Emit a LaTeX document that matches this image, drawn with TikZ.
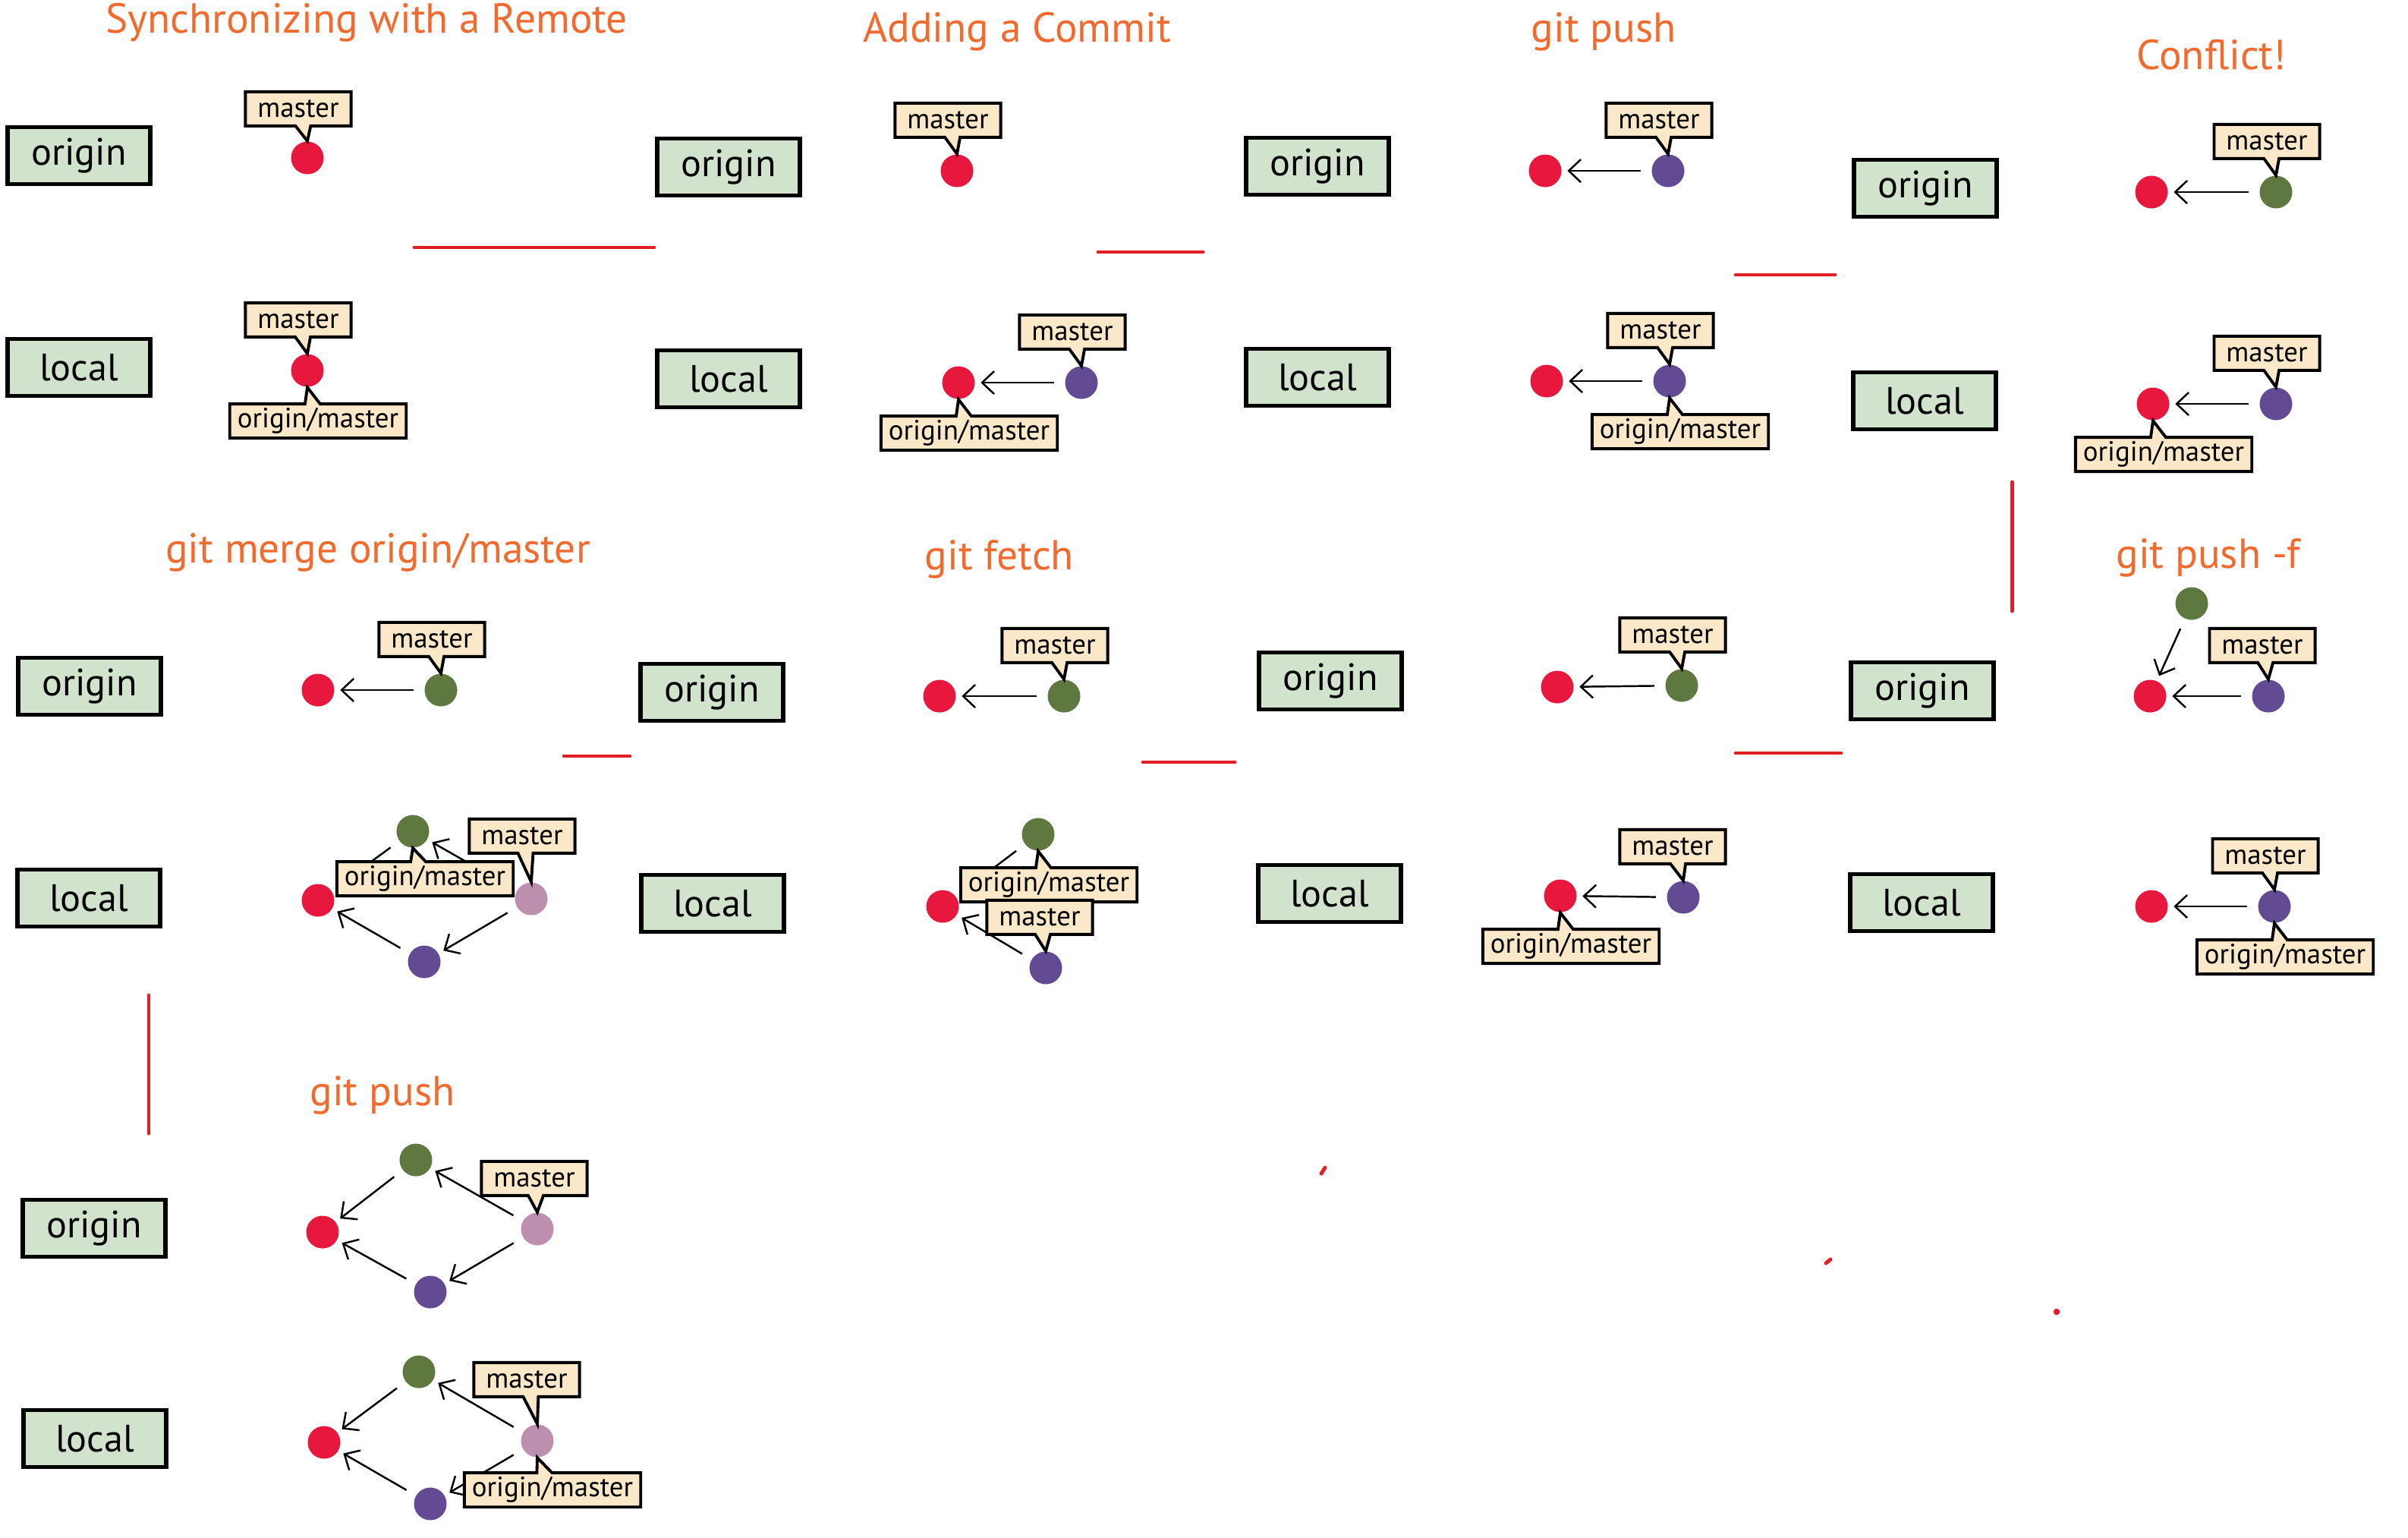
\documentclass[tikz,border=0pt]{standalone}
\usepackage{fontspec}
\setmainfont{PT Sans}
\usetikzlibrary{positioning,shapes.callouts,arrows.meta}
\definecolor{cred}{RGB}{232,23,61}
\definecolor{cgreen}{RGB}{94,120,64}
\definecolor{cpurple}{RGB}{99,75,148}
\definecolor{cpink}{RGB}{188,143,175}
\definecolor{repogreen}{RGB}{209,226,205}
\definecolor{tagbeige}{RGB}{250,232,201}
\definecolor{titleorange}{RGB}{242,106,46}
\definecolor{linered}{RGB}{227,30,36}

\begin{document}
\begin{tikzpicture}[>={Straight Barb[length=1.6mm,width=3mm]}]
            \tikzstyle{commit}=[circle,inner sep=0pt,minimum size=0.43cm]
            \tikzstyle{repo}=[draw=black,line width=1.5pt,fill=repogreen,minimum width=1.88cm,minimum height=0.75cm,inner sep=0pt,font=\fontsize{14.3}{17}\selectfont]
            \tikzstyle{branch}=[rectangle callout,draw=black,line width=1.1pt,fill=tagbeige,minimum height=0.45cm,inner xsep=0.16cm,inner ysep=0pt,callout pointer width=0.2cm,font=\fontsize{10.5}{12}\selectfont]
            \tikzstyle{remote}=[branch,inner xsep=0.1cm]
            \tikzstyle{heading}=[text=titleorange,font=\fontsize{15.7}{19}\selectfont]
            \tikzstyle{divider}=[draw=linered,line width=1.4pt,line cap=round]
                \useasboundingbox (0,0) rectangle (31.73,-20.25);

                \node[heading] (T-1) at (4.83,-0.30) {Synchronizing with a Remote};
                \node[heading] (T-2) at (13.40,-0.42) {Adding a Commit};
                \node[heading] (T-3) at (21.13,-0.42) {git push};
                \node[heading] (T-4) at (29.14,-0.72) {Conflict!};
                \node[heading] (T-5) at (4.98,-7.28) {git merge origin/master};
                \node[heading] (T-6) at (13.17,-7.37) {git fetch};
                \node[heading] (T-7) at (29.10,-7.35) {git push -f};
                \node[heading] (T-8) at (5.04,-14.43) {git push};

                \node[repo] (O-1) at (1.04,-2.05) {origin};
                \node[repo] (L-1) at (1.04,-4.84) {local};
                \node[repo] (O-2) at (9.60,-2.20) {origin};
                \node[repo] (L-2) at (9.60,-4.99) {local};
                \node[repo] (O-3) at (17.36,-2.19) {origin};
                \node[repo] (L-3) at (17.36,-4.97) {local};
                \node[repo] (O-4) at (25.37,-2.48) {origin};
                \node[repo] (L-4) at (25.36,-5.28) {local};
                \node[repo] (O-5) at (1.18,-9.04) {origin};
                \node[repo] (L-5) at (1.17,-11.83) {local};
                \node[repo] (O-6) at (9.38,-9.12) {origin};
                \node[repo] (L-6) at (9.39,-11.90) {local};
                \node[repo] (O-7) at (17.53,-8.97) {origin};
                \node[repo] (L-7) at (17.52,-11.77) {local};
                \node[repo] (O-8) at (25.33,-9.10) {origin};
                \node[repo] (L-8) at (25.32,-11.89) {local};
                \node[repo] (O-9) at (1.24,-16.18) {origin};
                \node[repo] (L-9) at (1.25,-18.95) {local};

                \node[commit,fill=cred] (C-1) at (4.05,-2.08){};
                \node[commit,fill=cred] (C-2) at (4.05,-4.88){};

                \node[commit,fill=cred] (C-3) at (12.61,-2.25){};
                \node[commit,fill=cred] (C-4) at (12.63,-5.04){};
                \node[commit,fill=cpurple] (C-5) at (14.25,-5.04){};

                \node[commit,fill=cred] (C-6) at (20.36,-2.25){};
                \node[commit,fill=cpurple] (C-7) at (21.98,-2.25){};
                \node[commit,fill=cred] (C-8) at (20.38,-5.02){};
                \node[commit,fill=cpurple] (C-9) at (22.00,-5.02){};

                \node[commit,fill=cred] (C-10) at (28.35,-2.53){};
                \node[commit,fill=cgreen] (C-11) at (29.99,-2.53){};
                \node[commit,fill=cred] (C-12) at (28.37,-5.32){};
                \node[commit,fill=cpurple] (C-13) at (29.99,-5.32){};

                \node[commit,fill=cred] (C-14) at (4.19,-9.09){};
                \node[commit,fill=cgreen] (C-15) at (5.81,-9.09){};
                \node[commit,fill=cgreen] (C-16) at (5.44,-10.95){};
                \node[commit,fill=cred] (C-17) at (4.19,-11.86){};
                \node[commit,fill=cpink] (C-18) at (7.00,-11.84){};
                \node[commit,fill=cpurple] (C-19) at (5.59,-12.67){};

                \node[commit,fill=cred] (C-20) at (12.38,-9.17){};
                \node[commit,fill=cgreen] (C-21) at (14.02,-9.17){};
                \node[commit,fill=cgreen] (C-22) at (13.68,-10.99){};
                \node[commit,fill=cred] (C-23) at (12.42,-11.94){};
                \node[commit,fill=cpurple] (C-24) at (13.78,-12.75){};

                \node[commit,fill=cred] (C-25) at (20.52,-9.05){};
                \node[commit,fill=cgreen] (C-26) at (22.16,-9.03){};
                \node[commit,fill=cred] (C-27) at (20.56,-11.80){};
                \node[commit,fill=cpurple] (C-28) at (22.18,-11.82){};

                \node[commit,fill=cgreen] (C-29) at (28.88,-7.95){};
                \node[commit,fill=cred] (C-30) at (28.33,-9.17){};
                \node[commit,fill=cpurple] (C-31) at (29.89,-9.17){};
                \node[commit,fill=cred] (C-32) at (28.35,-11.94){};
                \node[commit,fill=cpurple] (C-33) at (29.97,-11.94){};

                \node[commit,fill=cgreen] (C-34) at (5.48,-15.28){};
                \node[commit,fill=cred] (C-35) at (4.25,-16.23){};
                \node[commit,fill=cpink] (C-36) at (7.08,-16.19){};
                \node[commit,fill=cpurple] (C-37) at (5.67,-17.02){};
                \node[commit,fill=cgreen] (C-38) at (5.52,-18.07){};
                \node[commit,fill=cred] (C-39) at (4.27,-19.00){};
                \node[commit,fill=cpink] (C-40) at (7.08,-18.98){};
                \node[commit,fill=cpurple] (C-41) at (5.67,-19.81){};

                \foreach \from/\to in {5/4, 7/6, 9/8, 11/10, 13/12, 15/14, 16/17, 18/16, 18/19, 19/17, 21/20, 22/23, 24/23, 26/25, 28/27, 29/30, 31/30, 33/32, 34/35, 36/34, 36/37, 37/35, 38/39, 40/38, 40/41, 41/39}
                    \draw[->,line width=0.7pt,shorten >=2pt,shorten <=4pt] (C-\from) -- (C-\to);

                \node[branch,above=0.18cm of C-1,xshift=-0.12cm,callout absolute pointer={(C-1.north)}] (M-1) {master};
                \node[branch,above=0.2cm of C-2,xshift=-0.12cm,callout absolute pointer={(C-2.north)}] (M-2) {master};
                \node[remote,below=0.2cm of C-2,xshift=0.14cm,callout absolute pointer={(C-2.south)}] (R-2) {origin/master};
                \node[branch,above=0.2cm of C-3,xshift=-0.12cm,callout absolute pointer={(C-3.north)}] (M-3) {master};
                \node[branch,above=0.2cm of C-5,xshift=-0.12cm,callout absolute pointer={(C-5.north)}] (M-5) {master};
                \node[remote,below=0.2cm of C-4,xshift=0.14cm,callout absolute pointer={(C-4.south)}] (R-4) {origin/master};
                \node[branch,above=0.2cm of C-7,xshift=-0.12cm,callout absolute pointer={(C-7.north)}] (M-7) {master};
                \node[branch,above=0.2cm of C-9,xshift=-0.12cm,callout absolute pointer={(C-9.north)}] (M-9) {master};
                \node[remote,below=0.2cm of C-9,xshift=0.14cm,callout absolute pointer={(C-9.south)}] (R-9) {origin/master};
                \node[branch,above=0.2cm of C-11,xshift=-0.12cm,callout absolute pointer={(C-11.north)}] (M-11) {master};
                \node[branch,above=0.2cm of C-13,xshift=-0.12cm,callout absolute pointer={(C-13.north)}] (M-13) {master};
                \node[remote,below=0.2cm of C-12,xshift=0.14cm,callout absolute pointer={(C-12.south)}] (R-12) {origin/master};

                \node[branch,above=0.2cm of C-15,xshift=-0.12cm,callout absolute pointer={(C-15.north)}] (M-15) {master};
                \node[remote,below=0.16cm of C-16,xshift=0.16cm,callout absolute pointer={(C-16.south)}] (R-16) {origin/master};
                \node[branch,above=0.36cm of C-18,xshift=-0.12cm,callout absolute pointer={(C-18.north)}] (M-18) {master};
                \node[branch,above=0.2cm of C-21,xshift=-0.12cm,callout absolute pointer={(C-21.north)}] (M-21) {master};
                \node[remote,below=0.2cm of C-22,xshift=0.14cm,callout absolute pointer={(C-22.south)}] (R-22) {origin/master};
                \node[branch,above=0.2cm of C-24,xshift=-0.08cm,callout absolute pointer={(C-24.north)}] (M-24) {master};
                \node[branch,above=0.2cm of C-26,xshift=-0.12cm,callout absolute pointer={(C-26.north)}] (M-26) {master};
                \node[branch,above=0.2cm of C-28,xshift=-0.14cm,callout absolute pointer={(C-28.north)}] (M-28) {master};
                \node[remote,below=0.2cm of C-27,xshift=0.14cm,callout absolute pointer={(C-27.south)}] (R-27) {origin/master};
                \node[branch,above=0.2cm of C-31,xshift=-0.08cm,callout absolute pointer={(C-31.north)}] (M-31) {master};
                \node[branch,above=0.2cm of C-33,xshift=-0.12cm,callout absolute pointer={(C-33.north)}] (M-33) {master};
                \node[remote,below=0.2cm of C-33,xshift=0.14cm,callout absolute pointer={(C-33.south)}] (R-33) {origin/master};

                \node[branch,above=0.2cm of C-36,xshift=-0.04cm,callout absolute pointer={(C-36.north)}] (M-36) {master};
                \node[branch,above=0.34cm of C-40,xshift=-0.14cm,callout absolute pointer={(C-40.north)}] (M-40) {master};
                \node[remote,below=0.18cm of C-40,xshift=0.2cm,callout absolute pointer={(C-40.south)}] (R-40) {origin/master};

                \draw[divider] (5.46,-3.26) -- (8.62,-3.26);
                \draw[divider] (14.47,-3.32) -- (15.85,-3.32);
                \draw[divider] (22.87,-3.62) -- (24.18,-3.62);
                \draw[divider] (26.51,-6.35) -- (26.51,-8.05);
                \draw[divider] (7.43,-9.96) -- (8.30,-9.96);
                \draw[divider] (15.06,-10.04) -- (16.27,-10.04);
                \draw[divider] (22.87,-9.92) -- (24.26,-9.92);
                \draw[divider] (1.96,-13.11) -- (1.96,-14.93);
                \draw[divider] (17.41,-15.46) -- (17.46,-15.38);
                \draw[divider] (24.06,-16.64) -- (24.12,-16.59);
                \filldraw[linered] (27.10,-17.28) circle (0.035);
\end{tikzpicture}
\end{document}
